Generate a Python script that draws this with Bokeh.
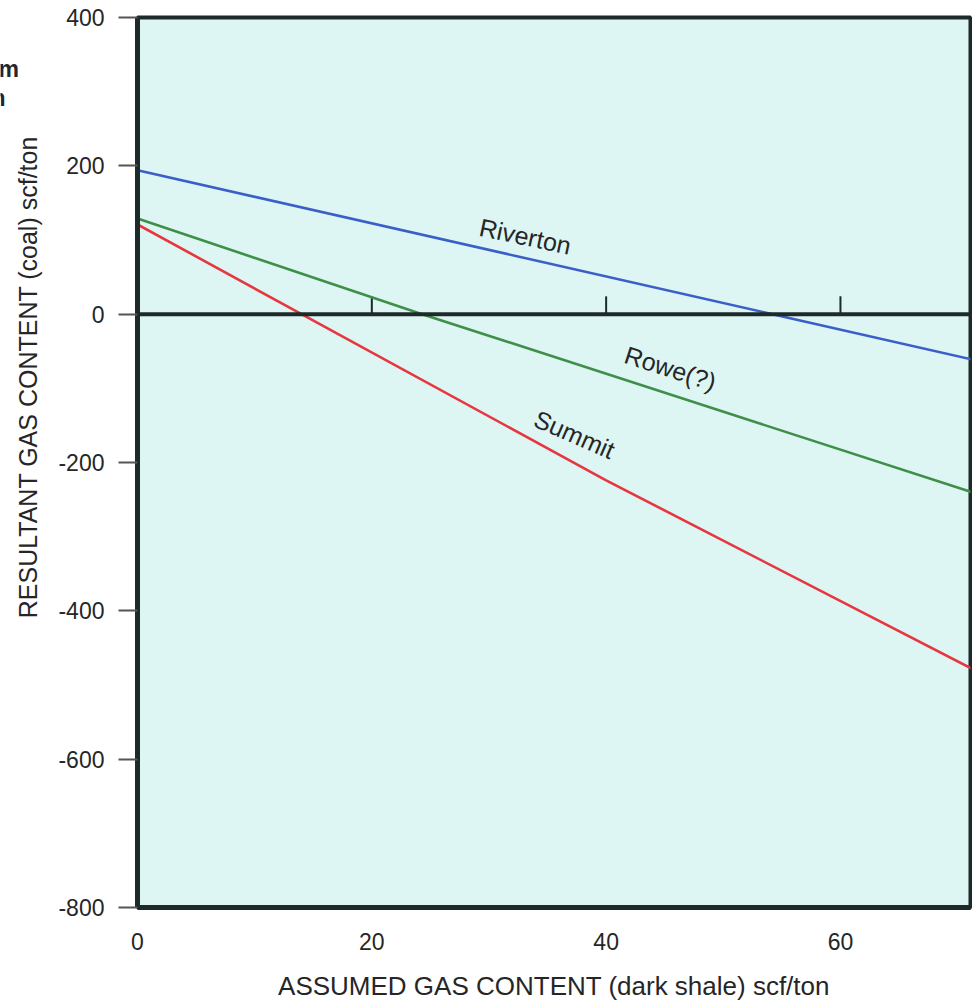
import math
from bokeh.plotting import figure
from bokeh.layouts import row
from bokeh.models import Span, FixedTicker, ColumnDataSource
from bokeh.core.properties import value
from bokeh.embed import file_html
from bokeh.resources import INLINE

# ---- data ----
riverton_x = [0, 54.2, 71.2]
riverton_y = [194, 0, -61]
rowe_x = [0, 24.3, 71.2]
rowe_y = [129, 0, -240]
summit_x = [0, 14, 40, 71.2]
summit_y = [121, 0, -224, -478]

x_ticks = [0, 20, 40, 60]
y_ticks = [400, 200, 0, -200, -400, -600, -800]
y_tick_labels = ["400", "200", "0", "-200", "-400", "-600", "-800"]
zero_ticks = [20, 40, 60]

label_names = ["Riverton", "Rowe(?)", "Summit"]
label_x = [33.1, 45.5, 37.3]
label_y = [105, -73, -162]
label_angle = [-0.21, -0.31, -0.41]

y_title = "RESULTANT GAS CONTENT (coal) scf/ton"
x_title = "ASSUMED GAS CONTENT (dark shale) scf/ton"
fragments = ["m", "n"]

FONT = "Liberation Sans"
DARK = "#1c2a2a"
TXT = "#262626"
LEFT_W = 50
FRAME_TOP = 17
FRAME_BOTTOM = 907

# ---- left strip holding the y title and the cut-off fragments ----
# (its frame is aligned with the main frame, so y range = page pixel rows)
left = figure(width=LEFT_W, height=1006, x_range=(0, LEFT_W),
              y_range=(FRAME_BOTTOM, FRAME_TOP),
              output_backend="svg", toolbar_location=None,
              min_border_left=0, min_border_right=0, min_border_top=FRAME_TOP,
              min_border_bottom=1006 - FRAME_BOTTOM)
left.title = None
left.axis.visible = False
left.grid.visible = False
left.outline_line_color = None
left.background_fill_color = "white"
left.border_fill_color = "white"
left.text(x=[27.5], y=[376.5], text=[y_title], angle=math.pi / 2,
          text_font=value(FONT), text_font_size="25px", text_color=TXT,
          text_align="center", text_baseline="middle")
left.text(x=[18.5, 5], y=[68, 97], text=fragments,
          text_font=value(FONT), text_font_size="23px", text_font_style="bold",
          text_color=TXT, text_align="right", text_baseline="middle")

# ---- main chart ----
p = figure(width=972 - LEFT_W, height=1006, x_range=(0, 71.1), y_range=(-800, 400),
           output_backend="svg", toolbar_location=None,
           min_border_left=137 - LEFT_W, min_border_right=2, min_border_top=FRAME_TOP,
           min_border_bottom=1006 - FRAME_BOTTOM)
p.title = None
p.background_fill_color = "#ddf5f3"
p.border_fill_color = "white"
p.outline_line_color = DARK
p.outline_line_width = 4
p.grid.visible = False

# x axis
p.xaxis.ticker = FixedTicker(ticks=x_ticks)
p.xaxis.axis_line_color = DARK
p.xaxis.axis_line_width = 5
p.xaxis.major_tick_out = 0
p.xaxis.major_tick_in = 0
p.xaxis.minor_tick_out = 0
p.xaxis.minor_tick_in = 0
p.xaxis.major_label_standoff = 25
p.xaxis.major_label_text_font = FONT
p.xaxis.major_label_text_font_size = "23px"
p.xaxis.major_label_text_color = TXT
p.xaxis.axis_label = x_title
p.xaxis.axis_label_text_font = FONT
p.xaxis.axis_label_text_font_style = "normal"
p.xaxis.axis_label_text_font_size = "26px"
p.xaxis.axis_label_text_color = TXT
p.xaxis.axis_label_standoff = 18

# y axis
p.yaxis.ticker = FixedTicker(ticks=y_ticks)
p.yaxis.major_label_overrides = {t: s for t, s in zip(y_ticks, y_tick_labels)}
p.yaxis.axis_line_color = DARK
p.yaxis.axis_line_width = 5
p.yaxis.major_tick_out = 19
p.yaxis.major_tick_in = 0
p.yaxis.minor_tick_out = 0
p.yaxis.minor_tick_in = 0
p.yaxis.major_tick_line_color = "#555555"
p.yaxis.major_tick_line_width = 2
p.yaxis.major_label_standoff = 14
p.yaxis.major_label_text_font = FONT
p.yaxis.major_label_text_font_size = "23px"
p.yaxis.major_label_text_color = TXT

# zero line and its tick marks
p.add_layout(Span(location=0, dimension="width", line_color=DARK, line_width=4))
p.segment(x0=zero_ticks, y0=[0] * len(zero_ticks), x1=zero_ticks,
          y1=[24] * len(zero_ticks), line_color=DARK, line_width=2)

# series
p.line(riverton_x, riverton_y, line_color="#3b5fc8", line_width=2.6)
p.line(rowe_x, rowe_y, line_color="#3f8f48", line_width=2.6)
p.line(summit_x, summit_y, line_color="#e8363f", line_width=2.6)

src = ColumnDataSource(dict(x=label_x, y=label_y, t=label_names, a=label_angle))
p.text(x="x", y="y", text="t", angle="a", source=src,
       text_font=value(FONT), text_font_size="25px", text_color=TXT,
       text_align="center", text_baseline="middle")

layout = row(left, p, spacing=0)
open("out.html", "w").write(file_html(layout, INLINE))
